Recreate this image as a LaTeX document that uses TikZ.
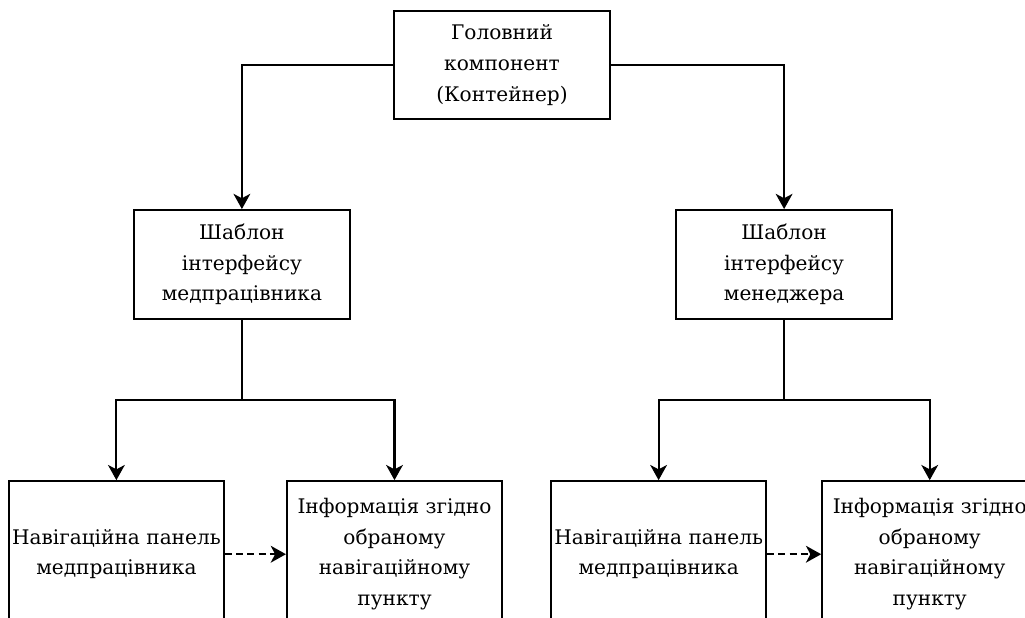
\documentclass[tikz,border=0pt]{standalone}
\usepackage{fontspec}
\newfontfamily\serifua{DejaVu Serif}
\usetikzlibrary{arrows.meta,positioning}

\begin{document}
\begin{tikzpicture}[>={Stealth[length=0.38cm, width=0.42cm, inset=0.11cm]}, line width=1.5pt,
  every node/.style={font=\serifua\fontsize{14.3}{21.8}\selectfont},
  box/.style={draw, minimum width=5.4cm, minimum height=2.7cm, align=center, inner sep=1pt},
  leaf/.style={box, minimum width=5.375cm, minimum height=3.65cm}]
\clip (0,0) rectangle (25.625,-15.45);
\node (main) [box] at (12.55,-1.625) {Головний\\компонент\\(Контейнер)};
\node (tmed) [box, below left=2.225cm and 1.05cm of main, minimum height=2.725cm] {Шаблон\\інтерфейсу\\медпрацівника};
\node (tman) [box, below right=2.225cm and 1.6cm of main, minimum height=2.725cm] {Шаблон\\інтерфейсу\\менеджера};
\coordinate [below=2cm of tmed.south] (splitm);
\coordinate [below=2cm of tman.south] (splitz);
\node (navm) [leaf, below=4cm of tmed, xshift=-3.1375cm] {Навігаційна панель\\медпрацівника};
\node (infm) [leaf, right=1.525cm of navm] {Інформація згідно\\обраному\\навігаційному\\пункту};
\node (navz) [leaf, below=4cm of tman, xshift=-3.1375cm] {Навігаційна панель\\медпрацівника};
\node (infz) [leaf, right=1.35cm of navz] {Інформація згідно\\обраному\\навігаційному\\пункту};
\draw[->] (main.west) -| (tmed.north);
\draw[->] (main.east) -| (tman.north);
\draw (tmed) -- (splitm);
\draw[->] (splitm) -| (navm.north);
\draw[->] (splitm) -| (infm.north);
\draw (tman) -- (splitz);
\draw[->] (splitz) -| (navz.north);
\draw[->] (splitz) -| (infz.north);
\draw[->, dash pattern=on 5pt off 3pt] (navm) -- (infm);
\draw[->, dash pattern=on 5pt off 3pt] (navz) -- (infz);
\end{tikzpicture}
\end{document}
